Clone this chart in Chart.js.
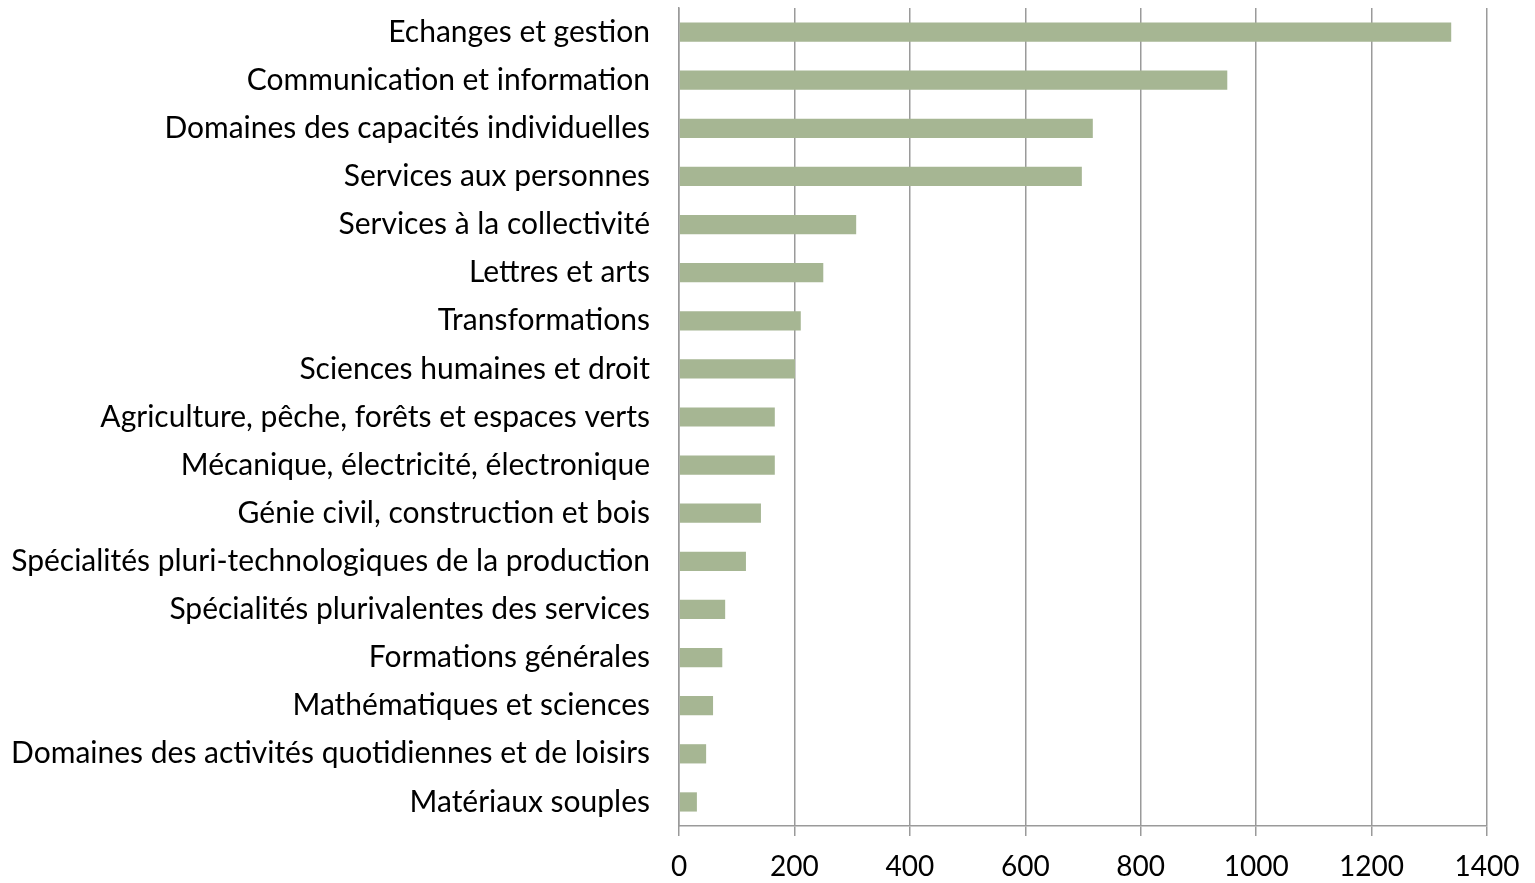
<!DOCTYPE html>
<html><head><meta charset="utf-8">
<script src="https://cdn.jsdelivr.net/npm/chart.js@4/dist/chart.umd.min.js"></script>
<style>html,body{margin:0;padding:0;background:#fff;}#wrap{width:1535px;height:883px;position:relative;}</style>
</head><body><div id="wrap"><canvas id="c" width="1535" height="883"></canvas></div>
<script>
const categories = [
  "Echanges et gestion",
  "Communication et information",
  "Domaines des capacités individuelles",
  "Services aux personnes",
  "Services à la collectivité",
  "Lettres et arts",
  "Transformations",
  "Sciences humaines et droit",
  "Agriculture, pêche, forêts et espaces verts",
  "Mécanique, électricité, électronique",
  "Génie civil, construction et bois",
  "Spécialités pluri-technologiques de la production",
  "Spécialités plurivalentes des services",
  "Formations générales",
  "Mathématiques et sciences",
  "Domaines des activités quotidiennes et de loisirs",
  "Matériaux souples"
];
const values = [1338, 950, 717, 698, 307, 250, 211, 201, 166, 166, 142, 116, 80, 75, 59, 47, 31];
const xTicks = [0, 200, 400, 600, 800, 1000, 1200, 1400];

new Chart(document.getElementById('c'), {
  type: 'bar',
  data: { labels: categories, datasets: [{ data: values, backgroundColor: '#a6b693', barPercentage: 0.4, categoryPercentage: 1.0 }] },
  options: {
    indexAxis: 'y', responsive: false, animation: false,
    layout: { padding: { top: 8, right: 48, left: 0, bottom: 0 } },
    plugins: { legend: { display: false }, tooltip: { enabled: false } },
    scales: {
      x: {
        min: 0, max: 1400,
        afterBuildTicks: a => { a.ticks = xTicks.map(v => ({ value: v })); },
        afterFit: a => { a.height = 57; a.paddingLeft = 0; a.paddingRight = 0; },
        grid: { color: '#9a9a9a', lineWidth: 1.5, tickLength: 10, drawTicks: true },
        border: { color: '#9a9a9a', width: 1.5 },
        ticks: { color: '#000', padding: 14, font: { family: 'Lato', size: 28 }, maxRotation: 0, callback: v => String(v) }
      },
      y: {
        afterFit: a => { a.width = 679; a.paddingTop = 0; a.paddingBottom = 0; },
        grid: { display: false, drawTicks: false },
        border: { color: '#9a9a9a', width: 1.5 },
        ticks: { color: '#000', padding: 29, font: { family: 'Lato', size: 30 }, autoSkip: false }
      }
    }
  }
});
</script></body></html>
